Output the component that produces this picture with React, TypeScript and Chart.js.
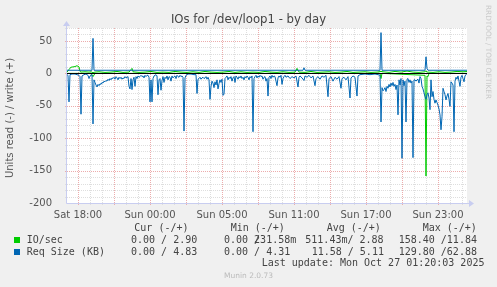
import React, { useEffect, useRef } from 'react';
import { Chart, registerables } from 'chart.js';

Chart.register(...registerables);

// x values are 5-minute sample indexes counted from the left edge of the graph (Sat 17:05)
const X_MIN = 0;
const X_MAX = 400;
const Y_MIN = -200;
const Y_MAX = 70;

const timeLabels = ['Sat 18:00', 'Sun 00:00', 'Sun 05:00', 'Sun 11:00', 'Sun 17:00', 'Sun 23:00'];
const timeLabelSteps = [11, 83, 155, 227, 299, 371];
const yLabelValues = [-200, -150, -100, -50, 0, 50];

// Req Size (KB), read (drawn negative)
const reqRead: [number, number][] = [
  [0, -2], [1, -3], [2, -44], [3, -2], [5, -1], [8, -1], [10, -2], [12, -3], [13, -5], [14, -63], [15, -4],
  [17, -2], [19, -1], [21, -3], [22, -8], [23, -4], [25, -2], [26, -78], [27, -10], [28, -14], [29, -18],
  [30, -21], [31, -17], [32, -19], [33, -16], [34, -17], [35, -14], [36, -15], [37, -12], [38, -13], [39, -11],
  [40, -12], [41, -9], [42, -11], [43, -8], [44, -10], [45, -7], [46, -8], [47, -6], [48, -9], [49, -5],
  [50, -7], [51, -10], [52, -6], [53, -8], [54, -6], [55, -9], [56, -7], [57, -8], [58, -5], [59, -7],
  [60, -6], [61, -5], [62, -20], [63, -24], [64, -8], [65, -25], [66, -10], [67, -6], [68, -20], [69, -5],
  [70, -8], [71, -4], [72, -6], [73, -5], [74, -3], [75, -5], [76, -4], [77, -7], [78, -3], [79, -5],
  [80, -3], [81, -3], [82, -6], [83, -44], [84, -10], [85, -44], [86, -8], [87, -4], [88, -3], [89, -2],
  [90, -4], [91, -33], [92, -10], [93, -8], [94, -26], [95, -11], [96, -5], [97, -14], [98, -6], [99, -8],
  [100, -4], [101, -10], [102, -5], [103, -6], [104, -12], [105, -4], [106, -7], [107, -5], [108, -4], [109, -8],
  [110, -3], [111, -5], [112, -6], [113, -3], [114, -5], [115, -4], [116, -6], [117, -89], [118, -7], [119, -3],
  [120, -2], [121, -1], [124, -1], [127, -2], [129, -2], [130, -31], [131, -9], [132, -8], [133, -6], [134, -9],
  [135, -7], [136, -6], [137, -8], [138, -7], [139, -5], [140, -9], [141, -6], [142, -10], [143, -40], [144, -20],
  [145, -12], [146, -15], [147, -22], [148, -13], [149, -18], [150, -10], [151, -24], [152, -16], [153, -10], [154, -14],
  [155, -9], [156, -34], [157, -32], [158, -8], [159, -6], [160, -4], [161, -10], [162, -6], [163, -8], [164, -5],
  [165, -12], [166, -7], [167, -5], [168, -14], [169, -4], [170, -6], [171, -9], [172, -5], [173, -7], [174, -4],
  [175, -8], [176, -6], [177, -10], [178, -5], [179, -7], [180, -4], [181, -6], [182, -10], [183, -5], [184, -7],
  [185, -4], [186, -90], [187, -8], [188, -5], [189, -3], [190, -7], [191, -4], [192, -6], [193, -3], [194, -5],
  [195, -4], [196, -9], [197, -6], [198, -5], [199, -12], [200, -8], [201, -35], [202, -6], [203, -4], [204, -8],
  [205, -3], [206, -6], [207, -4], [208, -5], [209, -12], [210, -19], [211, -7], [212, -4], [213, -6], [214, -3],
  [215, -17], [216, -8], [217, -5], [218, -3], [219, -6], [221, -4], [223, -8], [225, -5], [227, -7], [229, -4],
  [231, -21], [232, -6], [233, -4], [235, -7], [237, -11], [238, -4], [240, -6], [242, -3], [244, -7], [246, -4],
  [248, -19], [249, -8], [251, -5], [253, -9], [255, -4], [257, -6], [259, -3], [261, -36], [262, -8], [264, -5],
  [266, -12], [268, -6], [270, -9], [272, -5], [274, -23], [275, -8], [277, -6], [279, -10], [281, -5], [283, -38],
  [284, -7], [286, -4], [288, -6], [290, -35], [291, -4], [293, -2], [298, -1], [303, -2], [308, -1], [311, -2],
  [313, -3], [314, -75], [315, -22], [316, -27], [317, -25], [318, -22], [319, -28], [320, -20], [321, -23], [322, -17],
  [323, -21], [324, -15], [325, -19], [326, -14], [327, -20], [328, -17], [329, -25], [330, -18], [331, -64], [332, -10],
  [333, -18], [334, -8], [335, -131], [336, -10], [337, -19], [338, -12], [339, -75], [340, -9], [341, -8], [342, -14],
  [343, -10], [344, -15], [345, -12], [346, -130], [347, -10], [348, -10], [349, -12], [350, -10], [351, -9], [352, -15],
  [353, -5], [354, -8], [355, -20], [356, -24], [357, -30], [358, -36], [359, -40], [360, -33], [361, -30], [362, -38],
  [363, -56], [364, -10], [365, -36], [366, -28], [367, -40], [368, -46], [369, -41], [370, -45], [371, -49], [372, -55],
  [373, -64], [374, -87], [375, -67], [376, -23], [377, -28], [378, -33], [379, -41], [380, -35], [381, -31], [382, -40],
  [383, -51], [384, -13], [385, -15], [386, -18], [387, -90], [388, -12], [389, -6], [390, -9], [391, -4], [392, -12],
  [393, -20], [394, -6], [395, -3], [396, -8], [397, -13], [398, -4], [399, -2], [400, 0],
];

// Req Size (KB), write (positive)
const reqWrite: [number, number][] = [
  [0, 4.8], [25, 4.8], [26, 54], [27, 4.8], [236, 4.8], [237, 8.6], [238, 4.8], [313, 4.8], [314, 62.88],
  [315, 4.8], [358, 4.8], [359, 25.5], [360, 7.7], [361, 4.8], [400, 4.83],
];

// IO/sec, read (drawn negative)
const ioRead: [number, number][] = [
  [0, 0], [24, 0], [26, -5], [28, 0], [313, 0], [314, -8], [315, 0], [358, -3], [359, -158.4], [360, -4],
  [361, -5], [362, 0], [400, 0],
];

// IO/sec, write (positive)
const ioWrite: [number, number][] = [
  [0, 2], [2, 6], [3, 8], [4, 9.5], [6, 10], [8, 10.5], [10, 11.84], [11, 10.8], [12, 10], [13, 3], [14, 2],
  [18, 2.5], [22, 2], [24, 2.5], [26, 1], [28, 2], [32, 2.5], [38, 1.5], [44, 2], [50, 3], [56, 1.5], [62, 2],
  [65, 7.7], [66, 2.5], [72, 1.5], [78, 2], [84, 3], [90, 1.5], [96, 2], [102, 1.5], [108, 3], [114, 2],
  [120, 1.5], [126, 2.5], [132, 1.5], [138, 3], [144, 2], [150, 1.5], [156, 2], [162, 3], [168, 1.5], [174, 2.5],
  [180, 1.5], [186, 2], [192, 1.5], [198, 3], [204, 2], [210, 1.5], [216, 2.5], [222, 1.5], [228, 2], [230, 7.7],
  [232, 2], [238, 1.5], [244, 3], [250, 1.5], [256, 2], [262, 2.5], [268, 1.5], [274, 2], [280, 3], [286, 1.5],
  [292, 2], [298, 2.5], [304, 1.5], [310, 2], [314, 3], [316, 2.5], [322, 1.5], [328, 3], [334, 2], [340, 3.5],
  [346, 2], [352, 1.5], [358, 2.5], [359, 4], [360, 2], [366, 1.5], [372, 2.5], [378, 1.5], [384, 2], [390, 3],
  [396, 2.5], [400, 2.9],
];

const GREEN = '#00cc00';
const BLUE = '#0066b3';

const legendHeaders = ['Cur (-/+)', 'Min (-/+)', 'Avg (-/+)', 'Max (-/+)'];
const ioSecStats = ['0.00 / 2.90', '0.00 231.58m', '511.43m/ 2.88', '158.40 /11.84'];
const reqSizeStats = ['0.00 / 4.83', '0.00 / 4.31', '11.58 / 5.11', '129.80 /62.88'];

const toPoints = (arr: [number, number][]) => arr.map(([x, y]) => ({ x, y }));

const MINOR_GRID = 'rgb(222,222,222)';
const MAJOR_GRID = 'rgb(236,172,172)';

const rrdPlugin = {
  id: 'rrdGrid',
  beforeDatasetsDraw(chart: any) {
    const { ctx, chartArea: a, scales } = chart;
    const xs = scales.x;
    const ys = scales.y;
    ctx.save();
    ctx.fillStyle = '#ffffff';
    ctx.fillRect(a.left, a.top, a.right - a.left, a.bottom - a.top);
    ctx.lineWidth = 1;
    // horizontal grid
    for (let v = Y_MIN + 10; v <= Y_MAX; v += 10) {
      const py = Math.round(ys.getPixelForValue(v)) + 0.5;
      const major = v % 50 === 0;
      ctx.strokeStyle = major ? MAJOR_GRID : MINOR_GRID;
      ctx.setLineDash([1, 1]);
      ctx.beginPath();
      ctx.moveTo(a.left, py);
      ctx.lineTo(a.right, py);
      ctx.stroke();
      ctx.setLineDash([]);
      ctx.beginPath();
      ctx.moveTo(a.left - 2, py);
      ctx.lineTo(a.left, py);
      ctx.stroke();
    }
    // vertical grid
    for (let s = timeLabelSteps[0], k = 0; s < X_MAX; s += 12, k++) {
      const px = Math.round(xs.getPixelForValue(s)) + 0.5;
      const major = k % 3 === 0;
      ctx.strokeStyle = major ? MAJOR_GRID : MINOR_GRID;
      ctx.setLineDash([1, 1]);
      ctx.beginPath();
      ctx.moveTo(px, a.top);
      ctx.lineTo(px, a.bottom);
      ctx.stroke();
      ctx.setLineDash([]);
      ctx.beginPath();
      ctx.moveTo(px, a.bottom);
      ctx.lineTo(px, a.bottom + 2);
      ctx.stroke();
    }
    ctx.restore();
  },
  afterDatasetsDraw(chart: any) {
    const { ctx, chartArea: a, scales } = chart;
    const ys = scales.y;
    ctx.save();
    ctx.lineWidth = 1;
    // zero line
    const zy = Math.round(ys.getPixelForValue(0)) + 0.5;
    ctx.strokeStyle = '#000000';
    ctx.beginPath();
    ctx.moveTo(a.left, zy);
    ctx.lineTo(a.right, zy);
    ctx.stroke();
    // axes
    const axisColor = 'rgb(200,205,240)';
    ctx.strokeStyle = axisColor;
    ctx.fillStyle = axisColor;
    const lx = Math.round(a.left) - 0.5;
    const by = Math.round(a.bottom) + 0.5;
    ctx.beginPath();
    ctx.moveTo(lx, by);
    ctx.lineTo(lx, a.top - 2);
    ctx.moveTo(lx, by);
    ctx.lineTo(a.right + 2, by);
    ctx.stroke();
    ctx.beginPath();
    ctx.moveTo(lx, a.top - 7);
    ctx.lineTo(lx - 3.5, a.top - 2);
    ctx.lineTo(lx + 3.5, a.top - 2);
    ctx.closePath();
    ctx.fill();
    ctx.beginPath();
    ctx.moveTo(a.right + 7, by);
    ctx.lineTo(a.right + 2, by - 3.5);
    ctx.lineTo(a.right + 2, by + 3.5);
    ctx.closePath();
    ctx.fill();
    ctx.restore();
  },
};

const textColor = '#444';
const mono: React.CSSProperties = {
  position: 'absolute',
  fontFamily: '"DejaVu Sans Mono", monospace',
  fontSize: '10px',
  lineHeight: '12px',
  whiteSpace: 'pre',
  color: textColor,
};

export default function App() {
  const canvasRef = useRef<HTMLCanvasElement | null>(null);

  useEffect(() => {
    if (!canvasRef.current) return;
    const yGrid: number[] = [];
    for (let v = Y_MIN; v <= Y_MAX; v += 10) yGrid.push(v);
    const xGrid: number[] = [];
    for (let s = timeLabelSteps[0]; s < X_MAX; s += 12) xGrid.push(s);

    const chart = new Chart(canvasRef.current, {
      type: 'line',
      data: {
        datasets: [
          { label: 'Req Size read', data: toPoints(reqRead), borderColor: BLUE },
          { label: 'Req Size write', data: toPoints(reqWrite), borderColor: BLUE },
          { label: 'IO/sec read', data: toPoints(ioRead), borderColor: GREEN },
          { label: 'IO/sec write', data: toPoints(ioWrite), borderColor: GREEN },
        ],
      },
      options: {
        animation: false,
        responsive: false,
        devicePixelRatio: 1,
        layout: { padding: { left: 0, top: 28, right: 30, bottom: 0 } },
        elements: {
          point: { radius: 0 },
          line: { borderWidth: 1, tension: 0, fill: false },
        },
        plugins: {
          legend: { display: false },
          tooltip: { enabled: false },
          title: { display: false },
        },
        scales: {
          x: {
            type: 'linear',
            min: X_MIN,
            max: X_MAX,
            grid: { display: false },
            border: { display: false },
            afterBuildTicks: (s: any) => {
              s.ticks = xGrid.map((v) => ({ value: v }));
            },
            afterFit: (s: any) => {
              s.height = 84;
            },
            ticks: {
              autoSkip: false,
              maxRotation: 0,
              padding: -2,
              color: '#555',
              font: { family: '"DejaVu Sans"', size: 10 },
              callback: (v: any) => {
                const i = timeLabelSteps.indexOf(Number(v));
                return i >= 0 ? timeLabels[i] : '';
              },
            },
          },
          y: {
            type: 'linear',
            min: Y_MIN,
            max: Y_MAX,
            grid: { display: false },
            border: { display: false },
            afterBuildTicks: (s: any) => {
              s.ticks = yGrid.map((v) => ({ value: v }));
            },
            afterFit: (s: any) => {
              s.width = 67;
            },
            ticks: {
              autoSkip: false,
              padding: 7,
              color: '#555',
              font: { family: '"DejaVu Sans"', size: 10 },
              callback: (v: any) => (yLabelValues.includes(Number(v)) ? String(v) : ''),
            },
          },
        },
      },
      plugins: [rrdPlugin],
    } as any);
    return () => chart.destroy();
  }, []);

  const headerLefts = [134.3, 230.7, 326.7, 422.7];
  const ioLefts = [131, 224, 305.3, 398.7];
  const reqLefts = [131, 224, 311.7, 398.7];

  return (
    <div style={{ position: 'fixed', left: 0, top: 0, width: 497, height: 287, background: '#f0f0f0', overflow: 'hidden' }}>
      <canvas ref={canvasRef} width={497} height={287} style={{ position: 'absolute', left: 0, top: 0 }} />
      <div style={{ position: 'absolute', left: 0, top: 12, width: 497, textAlign: 'center', fontFamily: '"DejaVu Sans"', fontSize: '11.7px', lineHeight: '14px', color: '#444' }}>
        IOs for /dev/loop1 - by day
      </div>
      <div style={{ position: 'absolute', left: 10 - 75, top: 118 - 6, width: 150, height: 12, textAlign: 'center', fontFamily: '"DejaVu Sans"', fontSize: '10px', lineHeight: '12px', color: '#555', transform: 'rotate(-90deg)', whiteSpace: 'nowrap' }}>
        Units read (-) / write (+)
      </div>
      <div style={{ position: 'absolute', left: 488 - 60, top: 52 - 5, width: 120, height: 10, textAlign: 'center', fontFamily: '"DejaVu Sans"', fontSize: '7.3px', lineHeight: '10px', color: '#c8c8c8', transform: 'rotate(90deg)', whiteSpace: 'nowrap' }}>
        RRDTOOL / TOBI OETIKER
      </div>
      {legendHeaders.map((h, i) => (
        <span key={h} style={{ ...mono, left: headerLefts[i], top: 221.5 }}>{h}</span>
      ))}
      <div style={{ position: 'absolute', left: 14, top: 237, width: 6, height: 6, background: GREEN }} />
      <span style={{ ...mono, left: 26.7, top: 234 }}>IO/sec</span>
      {ioSecStats.map((t, i) => (
        <span key={'io' + i} style={{ ...mono, left: ioLefts[i], top: 234 }}>{t}</span>
      ))}
      <span style={{ ...mono, left: 254, top: 234 }}>/</span>
      <div style={{ position: 'absolute', left: 14, top: 249, width: 6, height: 6, background: BLUE }} />
      <span style={{ ...mono, left: 26.7, top: 245.7 }}>Req Size (KB)</span>
      {reqSizeStats.map((t, i) => (
        <span key={'rq' + i} style={{ ...mono, left: reqLefts[i], top: 245.7 }}>{t}</span>
      ))}
      <span style={{ ...mono, left: 261.7, top: 257.3 }}>Last update: Mon Oct 27 01:20:03 2025</span>
      <div style={{ position: 'absolute', left: 0, top: 271, width: 497, textAlign: 'center', fontFamily: '"DejaVu Sans"', fontSize: '7.5px', lineHeight: '10px', color: '#bbbbbb' }}>
        Munin 2.0.73
      </div>
    </div>
  );
}
